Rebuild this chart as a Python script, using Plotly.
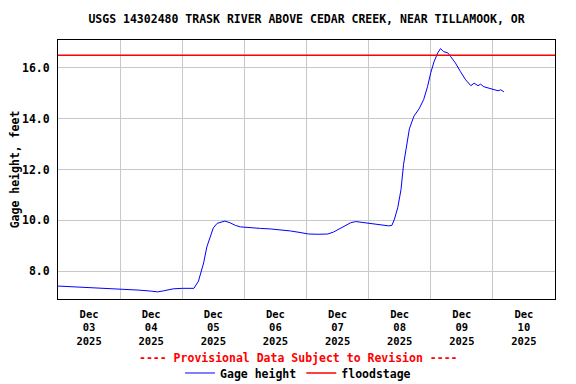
import plotly.graph_objects as go

title = "USGS 14302480 TRASK RIVER ABOVE CEDAR CREEK, NEAR TILLAMOOK, OR"

times = [
    "2025-12-03 00:00", "2025-12-03 07:00", "2025-12-03 14:30", "2025-12-04 00:00",
    "2025-12-04 07:15", "2025-12-04 12:00", "2025-12-04 14:30", "2025-12-04 16:45",
    "2025-12-04 20:30", "2025-12-05 00:00", "2025-12-05 04:30", "2025-12-05 06:15",
    "2025-12-05 08:15", "2025-12-05 09:30", "2025-12-05 10:45", "2025-12-05 12:00",
    "2025-12-05 13:30", "2025-12-05 14:45", "2025-12-05 16:30", "2025-12-05 18:30",
    "2025-12-05 20:30", "2025-12-05 22:30", "2025-12-06 02:30", "2025-12-06 06:15",
    "2025-12-06 10:00", "2025-12-06 14:00", "2025-12-06 17:45", "2025-12-06 21:30",
    "2025-12-07 00:45", "2025-12-07 04:30", "2025-12-07 08:15", "2025-12-07 10:30",
    "2025-12-07 13:15", "2025-12-07 15:00", "2025-12-07 17:00", "2025-12-07 19:00",
    "2025-12-07 21:00", "2025-12-08 00:45", "2025-12-08 04:30", "2025-12-08 07:45",
    "2025-12-08 09:00", "2025-12-08 10:00", "2025-12-08 11:15", "2025-12-08 12:30",
    "2025-12-08 13:30", "2025-12-08 14:45", "2025-12-08 15:45", "2025-12-08 17:30",
    "2025-12-08 19:30", "2025-12-08 21:15", "2025-12-08 22:45", "2025-12-09 00:00",
    "2025-12-09 01:15", "2025-12-09 02:45", "2025-12-09 03:45", "2025-12-09 05:00",
    "2025-12-09 06:30", "2025-12-09 07:45", "2025-12-09 09:30", "2025-12-09 11:30",
    "2025-12-09 13:30", "2025-12-09 15:30", "2025-12-09 16:45", "2025-12-09 18:15",
    "2025-12-09 19:15", "2025-12-09 20:30", "2025-12-09 23:15", "2025-12-10 02:00",
    "2025-12-10 03:00", "2025-12-10 04:15",
]
gage_height = [
    7.41, 7.38, 7.35, 7.30,
    7.25, 7.21, 7.18, 7.22,
    7.30, 7.32, 7.32, 7.60,
    8.32, 8.95, 9.35, 9.70,
    9.88, 9.93, 9.97, 9.90,
    9.80, 9.74, 9.70, 9.68,
    9.66, 9.63, 9.58, 9.52,
    9.46, 9.45, 9.46, 9.54,
    9.70, 9.78, 9.90, 9.95,
    9.92, 9.88, 9.83, 9.78,
    9.80, 10.05, 10.50, 11.20,
    12.20, 13.00, 13.60, 14.10,
    14.39, 14.75, 15.26, 15.81,
    16.24, 16.60, 16.76, 16.64,
    16.60, 16.44, 16.20, 15.85,
    15.53, 15.30, 15.40, 15.30,
    15.36, 15.26, 15.18, 15.10,
    15.14, 15.06,
]

flood_x = ["2025-12-03 00:00", "2025-12-11 00:00"]
flood_stage = [16.5, 16.5]

tick_dates = ["2025-12-03 12:00", "2025-12-04 12:00", "2025-12-05 12:00", "2025-12-06 12:00",
              "2025-12-07 12:00", "2025-12-08 12:00", "2025-12-09 12:00", "2025-12-10 12:00"]
tick_text = ["Dec<br>03<br>2025", "Dec<br>04<br>2025", "Dec<br>05<br>2025", "Dec<br>06<br>2025",
             "Dec<br>07<br>2025", "Dec<br>08<br>2025", "Dec<br>09<br>2025", "Dec<br>10<br>2025"]
y_ticks = [8, 10, 12, 14, 16]
y_text = ["8.0", "10.0", "12.0", "14.0", "16.0"]

FONT = "DejaVu Sans Mono"
F = dict(family=FONT, size=11.5, color="black", weight="bold")
FX = dict(family=FONT, size=10.5, color="black", weight="bold")

# page body has an 8px margin, so the figure is 8px smaller and shifted
W, H = 568, 376

fig = go.Figure()
fig.add_trace(go.Scatter(x=times, y=gage_height, mode="lines", name="Gage height",
                         line=dict(color="#0000FF", width=1)))
fig.add_trace(go.Scatter(x=flood_x, y=flood_stage, mode="lines", name="floodstage",
                         line=dict(color="#FF0000", width=1.3)))

fig.update_layout(
    width=W, height=H,
    margin=dict(l=50, r=21, t=32, b=85, autoexpand=False),
    paper_bgcolor="white", plot_bgcolor="white",
    font=F,
    title=dict(text=title, x=298.5 / W, xanchor="center",
               y=1 - 11 / H, yanchor="middle", automargin=False, font=F),
    showlegend=True,
    legend=dict(orientation="h", x=0.483, xanchor="center", y=-74 / 259, yanchor="middle",
                font=F, bgcolor="rgba(0,0,0,0)", itemwidth=30, tracegroupgap=0),
    annotations=[dict(text="---- Provisional Data Subject to Revision ----",
                      xref="paper", yref="paper", x=0.483, y=-59 / 259, xanchor="center",
                      yanchor="middle", showarrow=False,
                      font=dict(family=FONT, size=11.5, color="#FF0000", weight="bold"))],
)

fig.update_xaxes(
    type="date", range=["2025-12-03 00:00", "2025-12-11 00:00"],
    tickmode="array", tickvals=tick_dates, ticktext=tick_text, ticks="",
    ticklabelstandoff=5, automargin=False,
    showgrid=False, showline=True, linecolor="black", linewidth=1, mirror=True,
    zeroline=False,
    minor=dict(tick0="2025-12-03 00:00", dtick=86400000, showgrid=True,
               gridcolor="#C8C8C8", gridwidth=1, ticks=""),
    tickfont=FX,
)
fig.update_yaxes(
    range=[6.9, 17.1], tickmode="array", tickvals=y_ticks, ticktext=y_text, ticks="",
    ticklabelstandoff=5, automargin=False,
    showgrid=True, gridcolor="#C8C8C8", gridwidth=1,
    showline=True, linecolor="black", linewidth=1, mirror=True, zeroline=False,
    title=dict(text="Gage height, feet", standoff=4, font=F),
    tickfont=F,
)

fig.write_html("out.html")
